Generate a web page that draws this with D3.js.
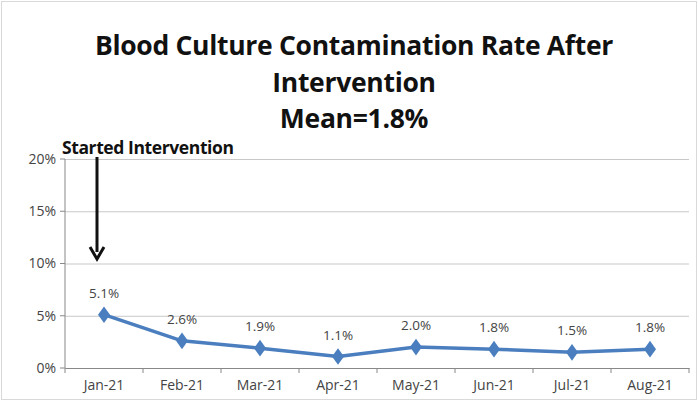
<!DOCTYPE html>
<html>
<head>
<meta charset="utf-8">
<script src="https://cdn.jsdelivr.net/npm/d3@7"></script>
<style>
  html, body { margin: 0; padding: 0; background: #fff; }
  svg { display: block; font-family: "Open Sans", Lato, sans-serif; }
</style>
</head>
<body>
<svg id="chart" width="698" height="408"></svg>
<script>
// --- data
const months = ["Jan-21", "Feb-21", "Mar-21", "Apr-21", "May-21", "Jun-21", "Jul-21", "Aug-21"];
const rates = [5.1, 2.6, 1.9, 1.1, 2.0, 1.8, 1.5, 1.8];
const yTicks = [0, 5, 10, 15, 20];
const titleLines = ["Blood Culture Contamination Rate After", "Intervention", "Mean=1.8%"];
const noteText = "Started Intervention";

const svg = d3.select("#chart");
const W = +svg.attr("width"), H = +svg.attr("height");
const M = { top: 159, right: 9, bottom: 40, left: 65 };
const innerW = W - M.left - M.right, innerH = H - M.top - M.bottom;

// outer frame
svg.append("rect").attr("x", 1.5).attr("y", 1.5).attr("width", W - 3).attr("height", H - 10)
  .attr("fill", "#fff").attr("stroke", "#d9d9d9");

// title
svg.append("g").selectAll("text").data(titleLines).join("text")
  .attr("x", 354).attr("y", (d, i) => 55 + i * 36.5)
  .attr("text-anchor", "middle")
  .style("font-size", "26.5px").style("font-weight", 700).style("fill", "#111")
  .style("letter-spacing", "-0.3px")
  .text(d => d);

const g = svg.append("g").attr("transform", `translate(${M.left},${M.top})`);

const x = d3.scaleBand().domain(months).range([0, innerW]);
const y = d3.scaleLinear().domain([0, 20]).range([innerH, 0]);

// grid + y axis
g.append("g")
  .call(d3.axisLeft(y).tickValues(yTicks).tickSize(-innerW).tickFormat(d => d + "%"))
  .call(a => a.select(".domain").remove())
  .call(a => a.selectAll(".tick line").attr("stroke", "#c8c8c8"))
  .call(a => a.selectAll(".tick text").attr("x", -9).style("font-size", "14px").style("fill", "#444").style("font-family", "'Open Sans', sans-serif"));

// left axis line with small ticks
g.append("line").attr("x1", 0).attr("x2", 0).attr("y1", 0).attr("y2", innerH).attr("stroke", "#888");
g.append("g").selectAll("line").data(yTicks).join("line")
  .attr("x1", -5).attr("x2", 0).attr("y1", d => y(d)).attr("y2", d => y(d)).attr("stroke", "#888");

// x axis
const gx = g.append("g").attr("transform", `translate(0,${innerH})`)
  .call(d3.axisBottom(x).tickSize(0).tickPadding(12))
  .call(a => a.select(".domain").attr("stroke", "#888"))
  .call(a => a.selectAll(".tick text").style("font-size", "14px").style("fill", "#444").style("font-family", "'Open Sans', sans-serif"));
// band boundary ticks
gx.append("g").selectAll("line").data(months.map((m, i) => i).concat(months.length)).join("line")
  .attr("x1", i => i * x.step()).attr("x2", i => i * x.step())
  .attr("y1", 0).attr("y2", 5).attr("stroke", "#888");

// line
const cx = d => x(d.m) + x.bandwidth() / 2;
const pts = months.map((m, i) => ({ m, v: rates[i] }));
g.append("path").datum(pts)
  .attr("fill", "none").attr("stroke", "#4a7ebf").attr("stroke-width", 3.5).attr("stroke-linejoin", "round")
  .attr("d", d3.line().x(cx).y(d => y(d.v)));

g.append("g").selectAll("path").data(pts).join("path")
  .attr("transform", d => `translate(${cx(d)},${y(d.v)}) scale(1.25,1)`)
  .attr("d", d3.symbol(d3.symbolDiamond, 80)())
  .attr("fill", "#4a7ebf");

// data labels
g.append("g").selectAll("text").data(pts).join("text")
  .attr("x", cx).attr("y", d => y(d.v) - 17)
  .attr("text-anchor", "middle")
  .style("font-size", "13.5px").style("fill", "#444")
  .text(d => d.v.toFixed(1) + "%");

// annotation
const ax = cx(pts[0]) - 7;
svg.append("text").attr("x", 62).attr("y", 154)
  .style("font-size", "17.5px").style("font-weight", 700).style("fill", "#111")
  .style("letter-spacing", "-0.4px")
  .text(noteText);
svg.append("line")
  .attr("x1", M.left + ax).attr("x2", M.left + ax)
  .attr("y1", 157).attr("y2", 252)
  .attr("stroke", "#111").attr("stroke-width", 3);
svg.append("path")
  .attr("d", `M${M.left + ax - 7},${247} L${M.left + ax},${259} L${M.left + ax + 7},${247}`)
  .attr("fill", "none").attr("stroke", "#111").attr("stroke-width", 3).attr("stroke-linejoin", "miter");
</script>
</body>
</html>
